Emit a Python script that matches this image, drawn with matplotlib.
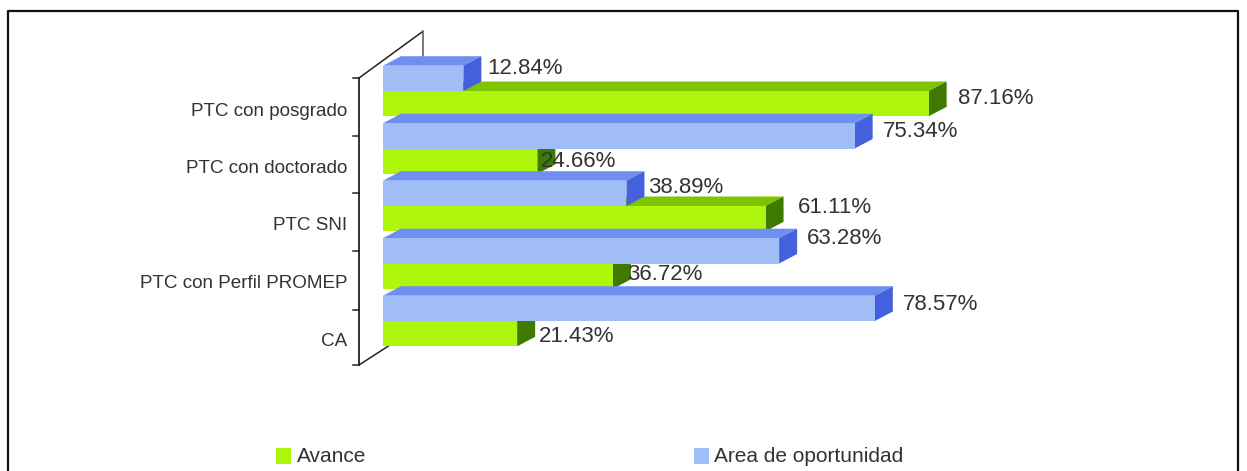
import matplotlib
matplotlib.use('Agg')
from matplotlib import pyplot as plt
from matplotlib.patches import Polygon, Rectangle
from matplotlib.transforms import Affine2D

categorias = ['CA', 'PTC con Perfil PROMEP', 'PTC SNI', 'PTC con doctorado', 'PTC con posgrado']
avance = [21.43, 36.72, 61.11, 24.66, 87.16]
oportunidad = [78.57, 63.28, 38.89, 75.34, 12.84]
leyenda = ['Avance', 'Area de oportunidad']

# ajustes de las etiquetas, en pixeles desde el final de la barra
ajuste_avance = [(22, 3), (14, -2), (32, -11), (4, 0), (29, -5)]
ajuste_oportunidad = [(28, -4), (28, -12), (22, -6), (28, -4), (24, -10)]

plt.rcParams['font.family'] = ['Liberation Sans', 'DejaVu Sans']

W, H = 1247, 471
fig = plt.figure(figsize=(W / 100, H / 100), dpi=100)
ax = fig.add_axes([0, 0, 1, 1])

# escalas: 0% en x=383 px, categoria 0 centrada en y=321 px
px_x = 6.26
px_y = 57.5
ax.set_xlim(-383 / px_x, (W - 383) / px_x)
ax.set_ylim((321 - H) / px_y, 321 / px_y)
ax.axis('off')

# para marco, paredes y leyenda
pix = Affine2D().scale(1 / W, -1 / H).translate(0, 1) + ax.transAxes

alto = 0.44
prof_x = 18 / px_x
prof_y = 9.5 / px_y


def barra(valor, y0, frente, arriba, lado, z):
    y1 = y0 + alto
    ax.add_patch(Polygon([(0, y1), (prof_x, y1 + prof_y), (valor + prof_x, y1 + prof_y), (valor, y1)],
                         fc=arriba, ec='none', zorder=z))
    ax.add_patch(Polygon([(valor, y0), (valor + prof_x, y0 + prof_y), (valor + prof_x, y1 + prof_y), (valor, y1)],
                         fc=lado, ec='none', zorder=z))
    ax.add_patch(Rectangle((0, y0), valor, alto, fc=frente, ec='none', zorder=z + 0.5))


# de arriba hacia abajo para que las de abajo tapen a las de arriba
for i in range(len(categorias) - 1, -1, -1):
    z = 10 + 2 * (len(categorias) - i)
    barra(avance[i], i - alto, '#AEF70C', '#7FC400', '#3F7A00', z)
    barra(oportunidad[i], i, '#A0BDF5', '#6F8FF0', '#4560DC', z + 1)

for i in range(len(categorias)):
    ax.text(-36 / px_x, i - 20 / px_y, categorias[i], ha='right', va='center', fontsize=13.6, color='#333333')
    dx, dy = ajuste_avance[i]
    ax.text(avance[i] + dx / px_x, i - (alto / 2) - dy / px_y, '%.2f%%' % avance[i],
            va='center', fontsize=16, color='#333333', zorder=40)
    dx, dy = ajuste_oportunidad[i]
    ax.text(oportunidad[i] + dx / px_x, i + (alto / 2) - dy / px_y, '%.2f%%' % oportunidad[i],
            va='center', fontsize=16, color='#333333', zorder=40)

# paredes del grafico
ax.plot([359, 359], [78, 365], color='#222222', lw=1.3, transform=pix, zorder=5)
ax.plot([359, 422], [78, 32], color='#222222', lw=1.1, transform=pix, zorder=5)
ax.plot([423, 423], [31, 56], color='#555555', lw=1.1, transform=pix, zorder=5)
ax.plot([359, 390], [365, 345], color='#222222', lw=1.1, transform=pix, zorder=5)
for y in [78, 136, 193, 251, 310, 365]:
    ax.plot([353, 359], [y, y], color='#222222', lw=1.1, transform=pix, zorder=5)

# marco
ax.plot([8, 8, 1238, 1238], [471, 11, 11, 471], color='#111111', lw=1.6, transform=pix)

# leyenda
ax.add_patch(Rectangle((276, 448), 15, 16, fc='#AEF70C', ec='none', transform=pix))
ax.text(297, 456, leyenda[0], va='center', fontsize=15, color='#333333', transform=pix)
ax.add_patch(Rectangle((694, 448), 15, 16, fc='#A0BDF5', ec='none', transform=pix))
ax.text(714, 456, leyenda[1], va='center', fontsize=15, color='#333333', transform=pix)

fig.savefig('out.png', dpi=100, facecolor='white')
